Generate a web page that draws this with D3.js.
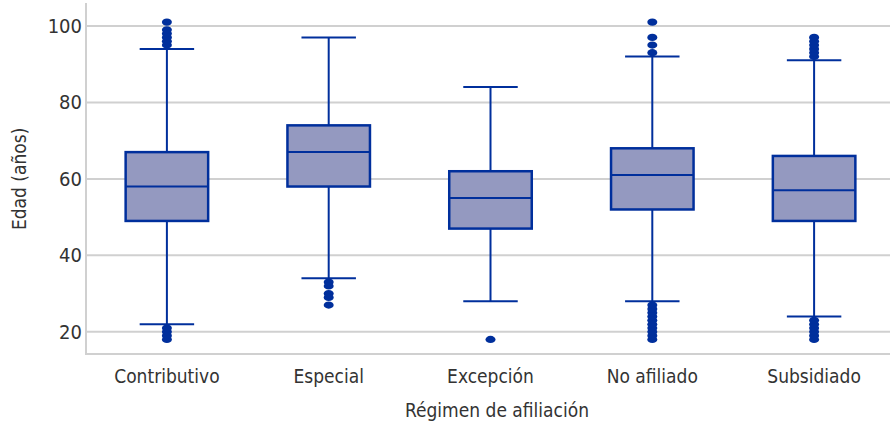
<!DOCTYPE html>
<html>
<head>
<meta charset="utf-8">
<script src="https://cdn.jsdelivr.net/npm/d3@7"></script>
<style>
  body { margin: 0; background: #fff; }
  text { font-family: "Liberation Sans Narrow", "DejaVu Sans Condensed", sans-serif; fill: #333; }
</style>
</head>
<body>
<svg width="890" height="424"></svg>
<script>
// datos
const categorias = ["Contributivo", "Especial", "Excepción", "No afiliado", "Subsidiado"];
const q1 = [49, 58, 47, 52, 49];
const mediana = [58, 67, 55, 61, 57];
const q3 = [67, 74, 62, 68, 66];
const bigoteBajo = [22, 34, 28, 28, 24];
const bigoteAlto = [94, 97, 84, 92, 91];
const atipicos = [
  [95, 96, 97, 98, 99, 101, 18, 19, 20, 21],
  [33, 32, 30, 29, 27],
  [18],
  [93, 95, 97, 101, 18, 19, 20, 21, 22, 23, 24, 25, 26, 27],
  [92, 93, 94, 95, 96, 97, 18, 19, 20, 21, 22, 23]
];
const yTicks = [20, 40, 60, 80, 100];

const svg = d3.select("svg");
const margin = { left: 86, right: 0, top: 3, bottom: 70 };
const width = 890, height = 424;

const x = d3.scaleBand()
  .domain(categorias)
  .range([margin.left, width + 5])
  .paddingInner(0.49)
  .paddingOuter(0.245);

const y = d3.scaleLinear()
  .domain([14.2, 106])
  .range([height - margin.bottom, margin.top]);

const azul = "#002f9c";

// rejilla
svg.append("g")
  .selectAll("line")
  .data(yTicks)
  .join("line")
    .attr("x1", margin.left)
    .attr("x2", width)
    .attr("y1", d => y(d))
    .attr("y2", d => y(d))
    .attr("stroke", "#d0d0d0")
    .attr("stroke-width", 2);

// ejes
svg.append("line")
  .attr("x1", margin.left).attr("x2", margin.left)
  .attr("y1", margin.top).attr("y2", height - margin.bottom + 1)
  .attr("stroke", "#d0d0d0").attr("stroke-width", 2);
svg.append("line")
  .attr("x1", margin.left).attr("x2", width)
  .attr("y1", height - margin.bottom).attr("y2", height - margin.bottom)
  .attr("stroke", "#d0d0d0").attr("stroke-width", 2);

const yAxis = svg.append("g")
  .attr("transform", `translate(${margin.left},0)`)
  .call(d3.axisLeft(y).tickValues(yTicks).tickSize(0).tickPadding(4));
yAxis.select(".domain").remove();
yAxis.selectAll("text").attr("font-size", 20).style("fill", "#333");

const xAxis = svg.append("g")
  .attr("transform", `translate(0,${height - margin.bottom})`)
  .call(d3.axisBottom(x).tickSize(0).tickPadding(16));
xAxis.select(".domain").remove();
xAxis.selectAll("text").attr("font-size", 19).style("fill", "#333");

// títulos
svg.append("text")
  .attr("x", 497).attr("y", 417)
  .attr("text-anchor", "middle")
  .attr("font-size", 19)
  .text("Régimen de afiliación");
svg.append("text")
  .attr("transform", `translate(26,${y(60)}) rotate(-90)`)
  .attr("text-anchor", "middle")
  .attr("font-size", 19)
  .text("Edad (años)");

// cajas
const datos = categorias.map((c, i) => ({
  c, q1: q1[i], med: mediana[i], q3: q3[i],
  lo: bigoteBajo[i], hi: bigoteAlto[i], out: atipicos[i]
}));

const bw = x.bandwidth();
const capW = bw * 0.66;

const g = svg.append("g").selectAll("g")
  .data(datos)
  .join("g")
    .attr("transform", d => `translate(${x(d.c) + bw / 2},0)`);

g.append("line")
  .attr("y1", d => y(d.lo)).attr("y2", d => y(d.hi))
  .attr("stroke", azul).attr("stroke-width", 2);
g.append("line")
  .attr("x1", -capW / 2).attr("x2", capW / 2)
  .attr("y1", d => y(d.lo)).attr("y2", d => y(d.lo))
  .attr("stroke", azul).attr("stroke-width", 2);
g.append("line")
  .attr("x1", -capW / 2).attr("x2", capW / 2)
  .attr("y1", d => y(d.hi)).attr("y2", d => y(d.hi))
  .attr("stroke", azul).attr("stroke-width", 2);

g.append("rect")
  .attr("x", -bw / 2).attr("width", bw)
  .attr("y", d => y(d.q3))
  .attr("height", d => y(d.q1) - y(d.q3))
  .attr("fill", "#9499c0")
  .attr("stroke", azul).attr("stroke-width", 2.5);
g.append("line")
  .attr("x1", -bw / 2).attr("x2", bw / 2)
  .attr("y1", d => y(d.med)).attr("y2", d => y(d.med))
  .attr("stroke", azul).attr("stroke-width", 2);

g.selectAll("ellipse")
  .data(d => d.out)
  .join("ellipse")
    .attr("cx", 0)
    .attr("cy", d => y(d))
    .attr("rx", 5)
    .attr("ry", 3.6)
    .attr("fill", azul);
</script>
</body>
</html>
